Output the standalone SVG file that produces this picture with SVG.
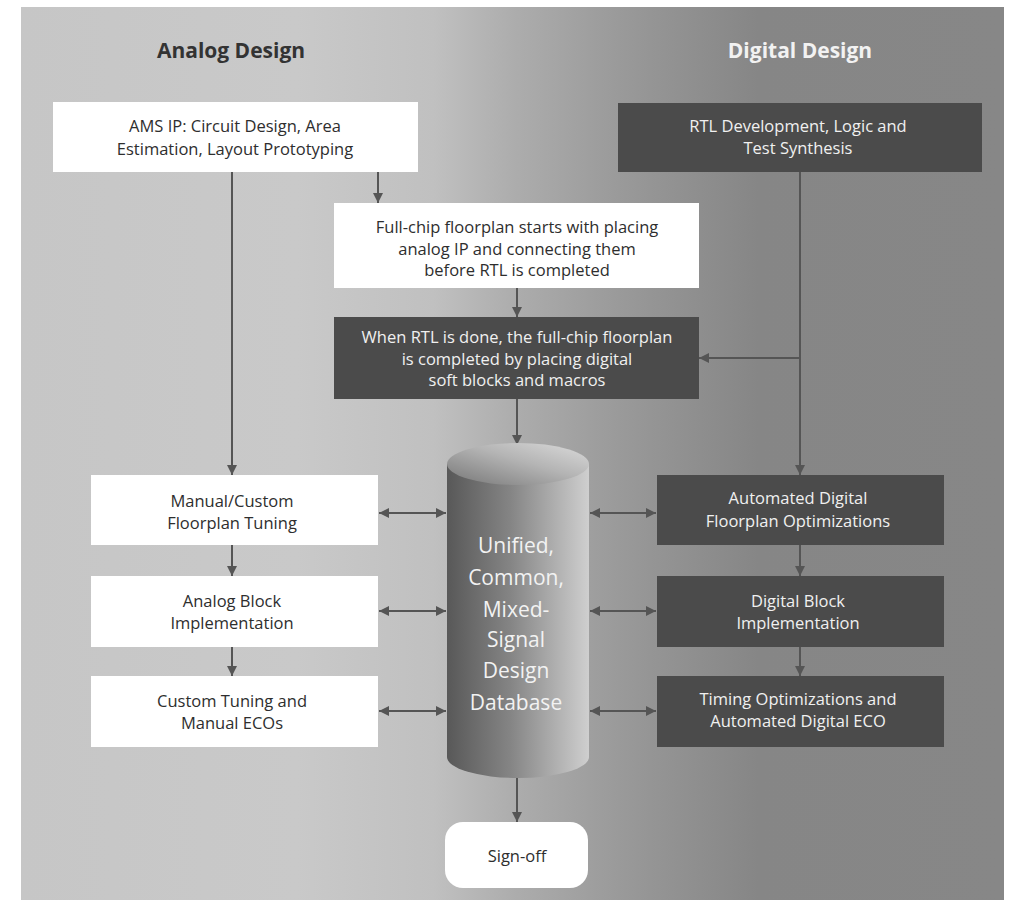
<svg xmlns="http://www.w3.org/2000/svg" width="1011" height="907" viewBox="0 0 1011 907">
  <defs>
    <linearGradient id="panelGrad" x1="21" y1="0" x2="1004" y2="0" gradientUnits="userSpaceOnUse">
      <stop offset="0" stop-color="#c6c6c6"/>
      <stop offset="0.28" stop-color="#c9c9c9"/>
      <stop offset="0.42" stop-color="#c0c0c0"/>
      <stop offset="0.50" stop-color="#adadad"/>
      <stop offset="0.59" stop-color="#9d9d9d"/>
      <stop offset="0.64" stop-color="#959595"/>
      <stop offset="0.75" stop-color="#868686"/>
      <stop offset="1" stop-color="#878787"/>
    </linearGradient>
    <linearGradient id="cylBody" x1="0" y1="0" x2="1" y2="0">
      <stop offset="0" stop-color="#585858"/>
      <stop offset="0.45" stop-color="#858585"/>
      <stop offset="1" stop-color="#cfcfcf"/>
    </linearGradient>
    <linearGradient id="cylTop" x1="0" y1="1" x2="1" y2="0">
      <stop offset="0" stop-color="#767676"/>
      <stop offset="0.55" stop-color="#b4b4b4"/>
      <stop offset="1" stop-color="#dcdcdc"/>
    </linearGradient>
    <marker id="arrow" viewBox="0 0 10 10" refX="10" refY="5" markerWidth="10" markerHeight="10" markerUnits="userSpaceOnUse" orient="auto-start-reverse">
      <path d="M0,0 L10,5 L0,10 z" fill="#555555"/>
    </marker>
    <style>
      .t { font-family: "Open Sans", "Noto Sans", "DejaVu Sans", sans-serif; font-size: 16.5px; text-anchor: middle; }
      .light { fill: #ffffff; }
      .dark { fill: #4b4b4b; }
      .onlight { fill: #2e2e2e; }
      .ondark { fill: #f0f0f0; }
      .title { font-family: "Open Sans", "Noto Sans", "DejaVu Sans", sans-serif; font-size: 21px; font-weight: bold; text-anchor: middle; }
      .db { font-family: "Open Sans", "Noto Sans", "DejaVu Sans", sans-serif; font-size: 21px; text-anchor: middle; fill: #f2f2f2; }
      .conn line { stroke: #555555; stroke-width: 2; fill: none; }
    </style>
  </defs>

  <!-- page background and shaded panel -->
  <rect x="0" y="0" width="1011" height="907" fill="#ffffff"/>
  <rect x="21" y="7" width="983" height="893" fill="url(#panelGrad)"/>

  <!-- column headings -->
  <text class="title" x="231" y="58" fill="#333333">Analog Design</text>
  <text class="title" x="800" y="58" fill="#f2f2f2">Digital Design</text>

  <!-- connectors -->
  <g id="connectors" class="conn">
    <line x1="232" y1="172" x2="232" y2="475" marker-end="url(#arrow)"/>
    <line x1="378" y1="172" x2="378" y2="203" marker-end="url(#arrow)"/>
    <line x1="517" y1="288" x2="517" y2="317" marker-end="url(#arrow)"/>
    <line x1="800" y1="172" x2="800" y2="475" marker-end="url(#arrow)"/>
    <line x1="800" y1="358" x2="699" y2="358" marker-end="url(#arrow)"/>
    <line x1="517" y1="399" x2="517" y2="445" marker-end="url(#arrow)"/>
    <line x1="232" y1="545" x2="232" y2="576" marker-end="url(#arrow)"/>
    <line x1="232" y1="647" x2="232" y2="676" marker-end="url(#arrow)"/>
    <line x1="800" y1="545" x2="800" y2="576" marker-end="url(#arrow)"/>
    <line x1="800" y1="647" x2="800" y2="676" marker-end="url(#arrow)"/>
    <line x1="379" y1="513" x2="446" y2="513" marker-start="url(#arrow)" marker-end="url(#arrow)"/>
    <line x1="379" y1="611" x2="446" y2="611" marker-start="url(#arrow)" marker-end="url(#arrow)"/>
    <line x1="379" y1="711" x2="446" y2="711" marker-start="url(#arrow)" marker-end="url(#arrow)"/>
    <line x1="590" y1="513" x2="656" y2="513" marker-start="url(#arrow)" marker-end="url(#arrow)"/>
    <line x1="590" y1="611" x2="656" y2="611" marker-start="url(#arrow)" marker-end="url(#arrow)"/>
    <line x1="590" y1="711" x2="656" y2="711" marker-start="url(#arrow)" marker-end="url(#arrow)"/>
    <line x1="517" y1="778" x2="517" y2="822" marker-end="url(#arrow)"/>
  </g>

  <!-- analog column -->
  <g id="ams-ip">
    <rect class="light" x="53" y="102" width="365" height="70"/>
    <text class="t onlight" x="235" y="132">AMS IP: Circuit Design, Area</text>
    <text class="t onlight" x="235" y="155">Estimation, Layout Prototyping</text>
  </g>
  <g id="manual-floorplan">
    <rect class="light" x="91" y="475" width="287" height="70"/>
    <text class="t onlight" x="232" y="507">Manual/Custom</text>
    <text class="t onlight" x="232" y="529">Floorplan Tuning</text>
  </g>
  <g id="analog-block">
    <rect class="light" x="91" y="576" width="287" height="71"/>
    <text class="t onlight" x="232" y="607">Analog Block</text>
    <text class="t onlight" x="232" y="629">Implementation</text>
  </g>
  <g id="custom-tuning">
    <rect class="light" x="91" y="676" width="287" height="71"/>
    <text class="t onlight" x="232" y="707">Custom Tuning and</text>
    <text class="t onlight" x="232" y="729">Manual ECOs</text>
  </g>

  <!-- centre column -->
  <g id="floorplan-start">
    <rect class="light" x="334" y="203" width="365" height="85"/>
    <text class="t onlight" x="517" y="233">Full-chip floorplan starts with placing</text>
    <text class="t onlight" x="517" y="255">analog IP and connecting them</text>
    <text class="t onlight" x="517" y="276">before RTL is completed</text>
  </g>
  <g id="floorplan-complete">
    <rect class="dark" x="334" y="317" width="365" height="82"/>
    <text class="t ondark" x="517" y="343">When RTL is done, the full-chip floorplan</text>
    <text class="t ondark" x="517" y="365">is completed by placing digital</text>
    <text class="t ondark" x="517" y="386">soft blocks and macros</text>
  </g>
  <g id="database">
    <path d="M447,464 L447,757 A71,21 0 0 0 589,757 L589,464 Z" fill="url(#cylBody)"/>
    <ellipse cx="518" cy="464" rx="71" ry="21" fill="url(#cylTop)"/>
    <text class="db" x="516" y="553">Unified,</text>
    <text class="db" x="516" y="585">Common,</text>
    <text class="db" x="516" y="617">Mixed-</text>
    <text class="db" x="516" y="647">Signal</text>
    <text class="db" x="516" y="678">Design</text>
    <text class="db" x="516" y="710">Database</text>
  </g>
  <g id="sign-off">
    <rect class="light" x="445" y="822" width="143" height="66" rx="18" ry="18"/>
    <text class="t onlight" x="517" y="862">Sign-off</text>
  </g>

  <!-- digital column -->
  <g id="rtl">
    <rect class="dark" x="618" y="103" width="364" height="69"/>
    <text class="t ondark" x="798" y="132">RTL Development, Logic and</text>
    <text class="t ondark" x="798" y="154">Test Synthesis</text>
  </g>
  <g id="auto-floorplan">
    <rect class="dark" x="657" y="475" width="287" height="70"/>
    <text class="t ondark" x="798" y="504">Automated Digital</text>
    <text class="t ondark" x="798" y="527">Floorplan Optimizations</text>
  </g>
  <g id="digital-block">
    <rect class="dark" x="657" y="576" width="287" height="71"/>
    <text class="t ondark" x="798" y="607">Digital Block</text>
    <text class="t ondark" x="798" y="629">Implementation</text>
  </g>
  <g id="timing-opt">
    <rect class="dark" x="657" y="676" width="287" height="71"/>
    <text class="t ondark" x="798" y="705">Timing Optimizations and</text>
    <text class="t ondark" x="798" y="727">Automated Digital ECO</text>
  </g>
</svg>
